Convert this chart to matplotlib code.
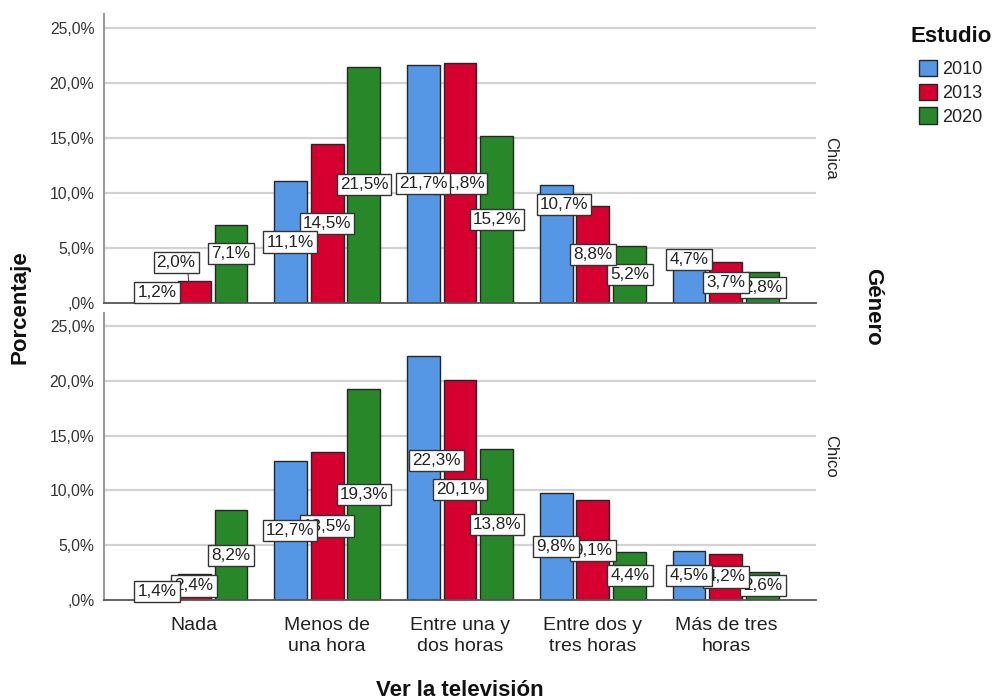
import matplotlib
matplotlib.use("Agg")
import matplotlib.pyplot as plt
from matplotlib.patches import Patch
import numpy as np

plt.rcParams['font.family'] = ['Liberation Sans', 'DejaVu Sans']

# ---------------- data ----------------
categories = ["Nada", "Menos de\nuna hora", "Entre una y\ndos horas",
              "Entre dos y\ntres horas", "Más de tres\nhoras"]
years = ["2010", "2013", "2020"]
panels = ["Chica", "Chico"]

chica_2010 = [1.2, 11.1, 21.7, 10.7, 4.7]
chica_2013 = [2.0, 14.5, 21.8, 8.8, 3.7]
chica_2020 = [7.1, 21.5, 15.2, 5.2, 2.8]

chico_2010 = [1.4, 12.7, 22.3, 9.8, 4.5]
chico_2013 = [2.4, 13.5, 20.1, 9.1, 4.2]
chico_2020 = [8.2, 19.3, 13.8, 4.4, 2.6]

yticks = [0, 5, 10, 15, 20, 25]
ytick_labels = [",0%", "5,0%", "10,0%", "15,0%", "20,0%", "25,0%"]

series = {
    "Chica": [chica_2010, chica_2013, chica_2020],
    "Chico": [chico_2010, chico_2013, chico_2020],
}

# label placement adjustments (panel, series index, category index) -> (dx, y)
label_adjust = {
    ("Chica", 0, 0): (0.0, 0.95),
    ("Chica", 1, 0): (-0.135, 3.7),
    ("Chica", 2, 0): (0.0, 4.5),
    ("Chica", 0, 3): (0.06, 9.0),
    ("Chica", 0, 4): (0.0, 3.95),
    ("Chico", 0, 0): (0.0, 0.8),
    ("Chico", 0, 2): (0.10, 12.7),
    ("Chico", 1, 0): (0.0, 1.28),
}
leader_lines = {("Chica", 1, 0)}

colors = ["#5597E4", "#D5002F", "#288728"]
edge = "#262626"

# ---------------- figure ----------------
W, H = 996, 700
fig = plt.figure(figsize=(W / 100, H / 100), dpi=100)

def fx(px):
    return px / W

def fy(py):
    return 1 - py / H

ax_top = fig.add_axes([fx(104), fy(303), fx(712), 289 / H])
ax_bot = fig.add_axes([fx(104), fy(600), fx(712), 287 / H])

x = np.arange(len(categories))
bw = 0.248
off = 0.278

def fmt(v):
    return f"{v:.1f}%".replace(".", ",")

for ax, panel, ytop in [(ax_top, "Chica", 26.3), (ax_bot, "Chico", 26.2)]:
    ax.set_xlim(-0.677, len(categories) - 1 + 0.677)
    ax.set_ylim(0, ytop)
    ax.set_yticks(yticks)
    ax.set_yticklabels(ytick_labels, fontsize=11.3, color="#333333")
    for yv in yticks[1:]:
        ax.axhline(yv, color="#D2D2D2", lw=1.6, zorder=0)
    for sp in ["top", "right"]:
        ax.spines[sp].set_visible(False)
    ax.spines["left"].set_color("#9A9A9A")
    ax.spines["left"].set_linewidth(1.5)
    ax.spines["bottom"].set_color("#555555")
    ax.spines["bottom"].set_linewidth(1.3)
    ax.tick_params(axis="both", length=0)
    ax.tick_params(axis="y", pad=7)
    ax.set_xticks(x)
    if ax is ax_bot:
        ax.set_xticklabels(categories, fontsize=14, color="#222222", linespacing=1.3)
        ax.tick_params(axis="x", pad=12)
    else:
        ax.set_xticklabels([])

    for i, vals in enumerate(series[panel]):
        xs = x + (i - 1) * off
        ax.bar(xs, vals, width=bw, color=colors[i], edgecolor=edge, lw=1.0, zorder=2)
    # labels: draw 2020 first, 2010 last (on top)
    for i in [2, 1, 0]:
        vals = series[panel][i]
        for j, v in enumerate(vals):
            bx = x[j] + (i - 1) * off
            dx, ly = label_adjust.get((panel, i, j), (0.0, v / 2))
            tx = bx + dx
            ax.text(tx, ly, fmt(v), ha="center", va="center", fontsize=12.3,
                    color="#222222", zorder=5 + (3 - i),
                    bbox=dict(boxstyle="square,pad=0.18", fc="white",
                              ec="#333333", lw=1.0))
            if (panel, i, j) in leader_lines:
                ax.plot([tx + 0.09, bx - 0.04], [ly - 1.0, v], color="#444444",
                        lw=0.8, zorder=4)

# strip labels
fig.text(fx(831), fy(158), "Chica", rotation=270, ha="center", va="center",
         fontsize=12, color="#222222")
fig.text(fx(831), fy(456), "Chico", rotation=270, ha="center", va="center",
         fontsize=12, color="#222222")

# axis titles
fig.text(fx(20), fy(307), "Porcentaje", rotation=90, ha="center", va="center",
         fontsize=16, fontweight="bold", color="#111111")
fig.text(fx(460), fy(690), "Ver la televisión", ha="center", va="center",
         fontsize=16, fontweight="bold", color="#111111")
fig.text(fx(873), fy(307), "Género", rotation=270, ha="center", va="center",
         fontsize=16, fontweight="bold", color="#111111")

# legend
fig.text(fx(910), fy(37), "Estudio", ha="left", va="center",
         fontsize=16, fontweight="bold", color="#111111")
handles = [Patch(facecolor=c, edgecolor=edge, lw=1.0) for c in colors]
fig.legend(handles, years, loc="upper left", bbox_to_anchor=(fx(919), fy(60)),
           frameon=False, handlelength=1.0, handleheight=1.0, handletextpad=0.3,
           labelspacing=0.3, borderpad=0, borderaxespad=0, fontsize=13,
           labelcolor="#222222")

fig.savefig("out.png", dpi=100)
